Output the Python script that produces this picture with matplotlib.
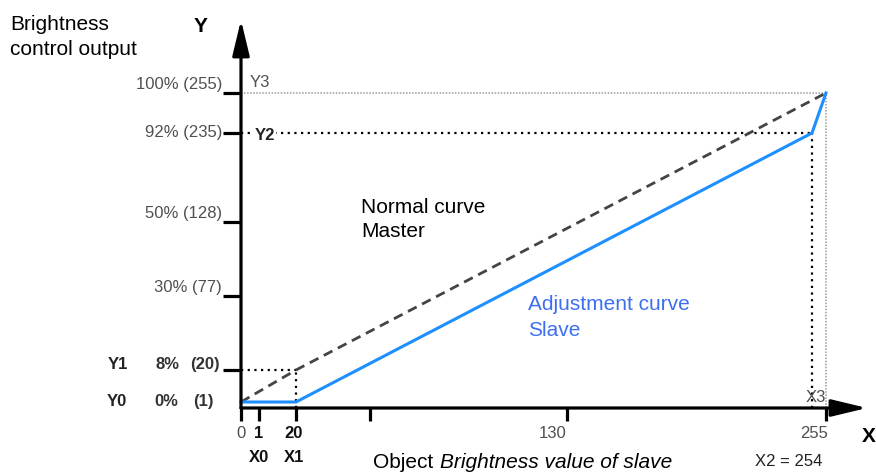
import numpy as np
import matplotlib
matplotlib.use("Agg")
import matplotlib.pyplot as plt
from matplotlib.ticker import NullLocator

plt.rcParams['font.family'] = ['Liberation Sans', 'DejaVu Sans']

# ---------------- data ----------------
master_x = [0, 20, 255]
master_y = [1, 20, 255]
slave_x = [0, 20, 254, 255]
slave_y = [1, 1, 235, 255]

x_ticks = [0, 1, 20, 50, 130, 255]
x_tick_labels = ['0', '1', '20', '', '130', '255']
x_sub_labels = ['', 'X0', 'X1', '', '', '']
y_ticks = [20, 77, 128, 235, 255]
y_tick_labels = ['(20)', '30% (77)', '50% (128)', '92% (235)', '100% (255)']

# ---------------- schematic (non-linear) axis scales ----------------
W, H = 876, 474
xk = [0, 1, 20, 130, 254, 255, 275]
xpx = [241, 259, 296, 567, 812, 826, 867]
yk = [0, 1, 20, 77, 128, 235, 255, 292]
ypx = [408, 402, 370, 296, 222, 133, 93, 20]


def make(a, b):
    a = np.asarray(a, float)
    b = np.asarray(b, float)
    s0 = (b[1] - b[0]) / (a[1] - a[0])
    s1 = (b[-1] - b[-2]) / (a[-1] - a[-2])

    def f(v):
        v = np.asarray(np.ma.getdata(v), float)
        out = np.interp(v, a, b)
        out = np.where(v < a[0], b[0] + (v - a[0]) * s0, out)
        out = np.where(v > a[-1], b[-1] + (v - a[-1]) * s1, out)
        return out
    return f


ypos = [H - p for p in ypx]

fig = plt.figure(figsize=(W / 100, H / 100), dpi=100)
ax = fig.add_axes([xpx[0] / W, (H - ypx[0]) / H,
                   (xpx[-1] - xpx[0]) / W, (ypx[0] - ypx[-1]) / H])
ax.set_xscale('function', functions=(make(xk, xpx), make(xpx, xk)))
ax.set_yscale('function', functions=(make(yk, ypos), make(ypos, yk)))
ax.set_xlim(xk[0], xk[-1])
ax.set_ylim(yk[0], yk[-1])
for s in ax.spines.values():
    s.set_visible(False)
ax.patch.set_alpha(0)

ax.set_xticks(x_ticks)
ax.set_yticks(y_ticks)
ax.xaxis.set_minor_locator(NullLocator())
ax.yaxis.set_minor_locator(NullLocator())
ax.tick_params(axis='x', direction='out', length=9.5, width=2.3, color='black',
               labelbottom=False)
ax.tick_params(axis='y', direction='out', length=13, width=2.3, color='black',
               labelleft=False)

# axes with arrows
arrow_kw = dict(arrowstyle='-|>,head_length=1.08,head_width=0.26', lw=2.3,
                color='black', shrinkA=0, shrinkB=0, mutation_scale=20)
ax.annotate('', xy=(xk[-1], 0), xytext=(0, 0), arrowprops=arrow_kw,
            annotation_clip=False)
ax.annotate('', xy=(0, yk[-1]), xytext=(0, 0), arrowprops=arrow_kw,
            annotation_clip=False)

# guide lines
ax.plot([0, slave_x[-1]], [slave_y[-1], slave_y[-1]], color='#9a9a9a', lw=1.1,
        linestyle=(0, (1, 1)), clip_on=False)
ax.plot([slave_x[-1], slave_x[-1]], [0, slave_y[-1]], color='#9a9a9a', lw=1.1,
        linestyle=(0, (1, 1)), clip_on=False)
ax.plot([0, slave_x[2]], [slave_y[2], slave_y[2]], color='black', lw=1.6,
        linestyle=(0, (1, 2)), clip_on=False)
ax.plot([slave_x[2], slave_x[2]], [0, slave_y[2]], color='black', lw=1.6,
        linestyle=(0, (1, 2)), clip_on=False)
ax.plot([0, master_x[1]], [master_y[1], master_y[1]], color='black', lw=1.6,
        linestyle=(0, (1, 2)), clip_on=False)
ax.plot([master_x[1], master_x[1]], [0, master_y[1]], color='black', lw=1.6,
        linestyle=(0, (1, 2)), clip_on=False)

# curves
ax.plot(master_x, master_y, color='#444444', lw=2.0, dashes=(3.5, 2.2),
        clip_on=False)
ax.plot(slave_x, slave_y, color='#1e8fff', lw=2.2, clip_on=False,
        solid_joinstyle='miter')

# y tick labels
GRAY = '#505050'
y_offsets = [None, (-19, 1), (-19, 1), (-19, 0), (-19, 1)]
y_va = [None, 'bottom', 'bottom', 'center', 'bottom']
for v, lab, off, va in zip(y_ticks, y_tick_labels, y_offsets, y_va):
    if off is None:
        continue
    ax.annotate(lab, xy=(0, v), xytext=off, textcoords='offset pixels',
                ha='right', va=va, fontsize=12, color=GRAY,
                annotation_clip=False)

# x tick labels
x_off = [0, 0, -2, 0, -14, -12]
x_col = [GRAY, '#111111', '#111111', GRAY, GRAY, GRAY]
x_wt = ['normal', 'bold', 'bold', 'normal', 'normal', 'normal']
for v, lab, sub, dx, c, wt in zip(x_ticks, x_tick_labels, x_sub_labels,
                                  x_off, x_col, x_wt):
    if lab:
        ax.annotate(lab, xy=(v, 0), xytext=(dx, -26), textcoords='offset pixels',
                    ha='center', va='center', fontsize=12, color=c,
                    fontweight=wt, annotation_clip=False)
    if sub:
        ax.annotate(sub, xy=(v, 0), xytext=(dx, -50), textcoords='offset pixels',
                    ha='center', va='center', fontsize=12, color='#111111',
                    fontweight='bold', annotation_clip=False)


def T(x, y, s, **kw):
    fig.text(x / W, 1 - y / H, s, **kw)


# free texts
T(10, 30, 'Brightness', fontsize=15, va='baseline')
T(10, 55, 'control output', fontsize=15, va='baseline')
T(201, 27, 'Y', fontsize=15, fontweight='bold', ha='center', va='center')
T(869, 436, 'X', fontsize=15, fontweight='bold', ha='center', va='center')
T(361, 213, 'Normal curve', fontsize=15, va='baseline')
T(361, 237, 'Master', fontsize=15, va='baseline')
T(528, 310, 'Adjustment curve', fontsize=15, va='baseline', color='#3d6ff0')
T(528, 336, 'Slave', fontsize=15, va='baseline', color='#3d6ff0')
T(373, 468, 'Object', fontsize=15, va='baseline')
T(440, 468, 'Brightness value of slave', fontsize=15, va='baseline',
  style='italic')

T(108, 369, 'Y1', fontsize=12, fontweight='bold', va='baseline', color='#222222')
T(155, 369, '8%', fontsize=12, fontweight='bold', va='baseline', color='#333333')
T(190, 369, '(20)', fontsize=12, fontweight='bold', va='baseline', color='#333333')
T(107, 406, 'Y0', fontsize=12, fontweight='bold', va='baseline', color='#222222')
T(154, 406, '0%', fontsize=12, fontweight='bold', va='baseline', color='#333333')
T(193, 406, '(1)', fontsize=12, fontweight='bold', va='baseline', color='#333333')

T(250, 87, 'Y3', fontsize=12, va='baseline', color=GRAY)
T(255, 135, 'Y2', fontsize=12, fontweight='bold', va='center', color='#222222',
  bbox=dict(facecolor='white', edgecolor='none', pad=0.5))
T(806, 402, 'X3', fontsize=12, va='baseline', color=GRAY)
T(789, 461, 'X2 = 254', fontsize=12, ha='center', va='center', color='#222222')

fig.savefig('out.png', dpi=100)
